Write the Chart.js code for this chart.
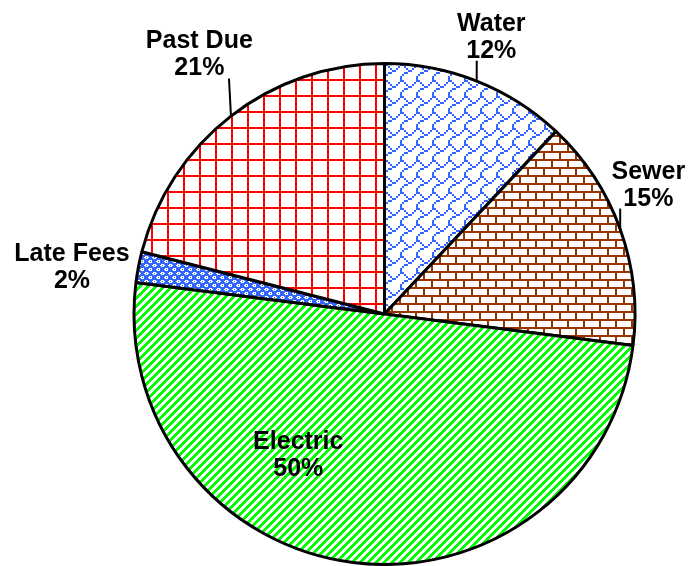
<!DOCTYPE html>
<html>
<head>
<meta charset="utf-8">
<script src="https://cdn.jsdelivr.net/npm/chart.js@4.4.1/dist/chart.umd.min.js"></script>
<style>
	body { margin: 0; background: #fff; }
	#wrap { width: 689px; height: 566px; }
</style>
</head>
<body>
<div id="wrap"><canvas id="pie_chart" width="689" height="566"></canvas></div>
<script>
var categories = ['Water', 'Sewer', 'Electric', 'Late Fees', 'Past Due'];
var shares = [12, 15, 50, 2, 21];

// label placement: distance (x radius) and turn (deg) from the slice middle
var labelDist = [1.19, 1.175, 0.655, 1.262, 1.276];
var labelTurn = [-0.6, -6.5, 24.5, -2.1, 2.4];
var hasLeader = [true, true, false, false, true];

// 8x8 bitmaps, drawn at 2x (lsb = left pixel)
function bitTile(rows, fg, bg) {
	var c = document.createElement('canvas');
	c.width = 16; c.height = 16;
	var g = c.getContext('2d');
	g.fillStyle = bg;
	g.fillRect(0, 0, 16, 16);
	g.fillStyle = fg;
	for (var y = 0; y < 8; y++) {
		for (var x = 0; x < 8; x++) {
			if (rows[y] & (1 << x)) g.fillRect(x * 2, y * 2, 2, 2);
		}
	}
	return g.createPattern(c, 'repeat');
}

function brickTile(fg) {
	var c = document.createElement('canvas');
	c.width = 16; c.height = 16;
	var g = c.getContext('2d');
	g.fillStyle = '#fff';
	g.fillRect(0, 0, 16, 16);
	g.fillStyle = fg;
	g.fillRect(0, 7, 16, 2);
	g.fillRect(0, 15, 16, 1);
	g.fillRect(0, 0, 16, 1);
	g.fillRect(7, 1, 2, 6);
	g.fillRect(15, 9, 1, 6);
	g.fillRect(0, 9, 1, 6);
	return g.createPattern(c, 'repeat');
}

function gridTile(fg) {
	var c = document.createElement('canvas');
	c.width = 16; c.height = 16;
	var g = c.getContext('2d');
	g.fillStyle = '#fff';
	g.fillRect(0, 0, 16, 16);
	g.fillStyle = fg;
	g.fillRect(7, 0, 2, 16);
	g.fillRect(0, 15, 16, 1);
	g.fillRect(0, 0, 16, 1);
	return g.createPattern(c, 'repeat');
}

function stripeTile(fg) {
	var c = document.createElement('canvas');
	c.width = 8; c.height = 8;
	var g = c.getContext('2d');
	g.fillStyle = '#fff';
	g.fillRect(0, 0, 8, 8);
	g.fillStyle = fg;
	for (var y = 0; y < 8; y++) {
		for (var x = 0; x < 8; x++) {
			if ((x + y) % 8 < 4) g.fillRect(x, y, 1, 1);
		}
	}
	return g.createPattern(c, 'repeat');
}

function dotTile(fg) {
	var c = document.createElement('canvas');
	c.width = 8; c.height = 8;
	var g = c.getContext('2d');
	g.fillStyle = fg;
	g.fillRect(0, 0, 8, 8);
	g.fillStyle = '#fff';
	g.fillRect(1, 0, 3, 3);
	g.fillRect(0, 1, 5, 1);
	g.fillRect(5, 4, 3, 3);
	g.fillRect(4, 5, 5, 1);
	g.fillStyle = fg;
	g.fillRect(2, 1, 1, 1);
	g.fillRect(6, 5, 1, 1);
	return g.createPattern(c, 'repeat');
}

var fills = [
	bitTile([0x03, 0x84, 0x48, 0x30, 0x0c, 0x02, 0x01, 0x01], '#3366ff', '#fff'),
	brickTile('#993300'),
	stripeTile('#00ff00'),
	dotTile('#3366ff'),
	gridTile('#ff0000')
];

// labels + leader lines
var pieLabels = {
	id: 'pieLabels',
	afterDatasetsDraw: function (chart) {
		var ctx = chart.ctx;
		var arcs = chart.getDatasetMeta(0).data;
		var total = 0;
		for (var i = 0; i < shares.length; i++) total += shares[i];

		ctx.save();
		ctx.font = 'bold 25px "Liberation Sans", Arial, sans-serif';
		ctx.fillStyle = '#000';
		ctx.strokeStyle = '#000';
		ctx.textAlign = 'center';
		ctx.textBaseline = 'alphabetic';
		for (var j = 0; j < arcs.length; j++) {
			var a = arcs[j];
			var mid = (a.startAngle + a.endAngle) / 2;
			var ang = mid + labelTurn[j] * Math.PI / 180;
			var r = a.outerRadius;
			var lx = a.x + Math.cos(ang) * r * labelDist[j];
			var ly = a.y + Math.sin(ang) * r * labelDist[j];

			if (hasLeader[j]) {
				var ex = a.x + Math.cos(mid) * r;
				var ey = a.y + Math.sin(mid) * r;
				ctx.lineWidth = 2;
				ctx.beginPath();
				ctx.moveTo(ex, ey);
				ctx.lineTo(ex - (j == 4 ? 2 : 0), ly + 25);
				ctx.stroke();
			}

			var pct = Math.round(shares[j] / total * 100) + '%';
			ctx.fillText(categories[j], lx, ly - 5);
			ctx.fillText(pct, lx, ly + 22);
		}
		ctx.restore();
	}
};

new Chart(document.getElementById('pie_chart'), {
	type: 'pie',
	data: {
		labels: categories,
		datasets: [{
			data: shares,
			backgroundColor: fills,
			borderColor: '#000',
			borderWidth: 3
		}]
	},
	options: {
		responsive: false,
		animation: false,
		events: [],
		layout: { padding: { top: 62, bottom: 0, left: 132, right: 52 } },
		plugins: {
			legend: { display: false },
			tooltip: { enabled: false }
		}
	},
	plugins: [pieLabels]
});
</script>
</body>
</html>
